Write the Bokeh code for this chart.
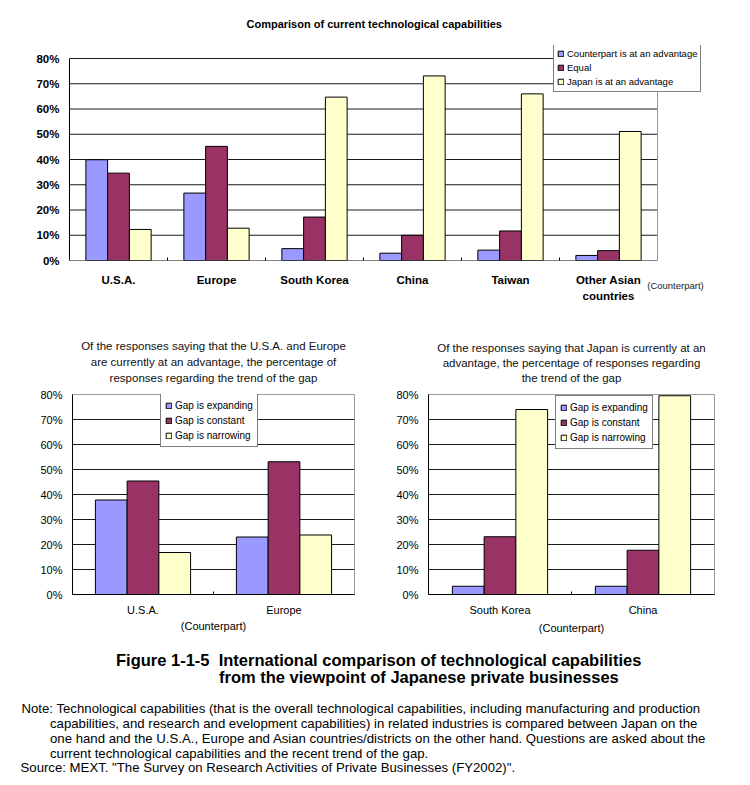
import html
from bokeh.plotting import figure
from bokeh.models import (Range1d, FixedTicker, Legend, LegendItem, Title, Div, LinearAxis)
from bokeh.layouts import column, row
from bokeh.embed import file_html
from bokeh.resources import INLINE

FONT = "Liberation Sans"
BLUE = "#9999FF"
MAROON = "#993366"
YELLOW = "#FFFFCC"
GRID = "#1a1a1a"
BORDER = "#9a9a9a"

# ---------------- data ----------------
top_title = "Comparison of current technological capabilities"
top_categories = ["U.S.A.", "Europe", "South Korea", "China", "Taiwan", "Other Asian\ncountries"]
top_series = ["Counterpart is at an advantage", "Equal", "Japan is at an advantage"]
top_counterpart_adv = [39.9, 26.7, 4.7, 2.9, 4.1, 2.0]
top_equal = [34.6, 45.2, 17.2, 10.0, 11.7, 3.9]
top_japan_adv = [12.3, 12.8, 64.7, 73.1, 66.0, 51.1]

gap_series = ["Gap is expanding", "Gap is constant", "Gap is narrowing"]

left_title = ["Of the responses saying that the U.S.A. and Europe",
              "are currently at an advantage, the percentage of",
              "responses regarding the trend of the gap"]
left_categories = ["U.S.A.", "Europe"]
left_expanding = [37.8, 23.0]
left_constant = [45.4, 53.1]
left_narrowing = [16.8, 23.8]

right_title = ["Of the responses saying that Japan is currently at an",
               "advantage, the percentage of responses regarding",
               "the trend of the gap"]
right_categories = ["South Korea", "China"]
right_expanding = [3.3, 3.3]
right_constant = [23.1, 17.7]
right_narrowing = [74.0, 79.5]

pct_ticks = [0, 10, 20, 30, 40, 50, 60, 70, 80]
pct_labels = ["0%", "10%", "20%", "30%", "40%", "50%", "60%", "70%", "80%"]
counterpart_label = "(Counterpart)"

caption_lines = ["Figure 1-1-5  International comparison of technological capabilities",
                 "from the viewpoint of Japanese private businesses"]
note_lines = ["Note: Technological capabilities (that is the overall technological capabilities, including manufacturing and production",
              "capabilities, and research and evelopment capabilities) in related industries is compared between Japan on the",
              "one hand and the U.S.A., Europe and Asian countries/districts on the other hand. Questions are asked about the",
              "current technological capabilities and the recent trend of the gap."]
source_line = "Source: MEXT. \"The Survey on Research Activities of Private Businesses (FY2002)\"."


def style_yaxis(p, size, style):
    p.yaxis.ticker = FixedTicker(ticks=pct_ticks)
    p.yaxis.major_label_overrides = {t: lab for t, lab in zip(pct_ticks, pct_labels)}
    p.yaxis.bounds = (pct_ticks[0], pct_ticks[-1])
    p.yaxis.major_tick_out = 0
    p.yaxis.major_tick_in = 0
    p.yaxis.minor_tick_line_color = None
    p.yaxis.axis_line_color = "black"
    p.yaxis.major_label_text_font = FONT
    p.yaxis.major_label_text_font_size = size
    p.yaxis.major_label_text_font_style = style
    p.yaxis.major_label_text_color = "black"
    p.yaxis.major_label_standoff = 10


def add_bars(p, n, series, bar_w):
    colors = [BLUE, MAROON, YELLOW]
    renderers = []
    for k, vals in enumerate(series):
        xs = [i + 0.5 + (k - 1) * bar_w for i in range(n)]
        renderers.append(p.vbar(x=xs, top=vals, bottom=0, width=bar_w, fill_color=colors[k],
                                line_color="black", line_width=1))
    return renderers


def add_legend(p, names, renderers, loc, size, lheight, pad):
    legend = Legend(items=[LegendItem(label=nm, renderers=[r]) for nm, r in zip(names, renderers)],
                    location=loc, orientation="vertical")
    legend.label_text_font = FONT
    legend.label_text_font_size = size
    legend.label_text_color = "black"
    legend.label_height = lheight
    legend.label_standoff = 3
    legend.glyph_width = 7
    legend.glyph_height = 7
    legend.padding = pad
    legend.spacing = 1
    legend.margin = 0
    legend.border_line_color = "black"
    legend.border_line_width = 1
    legend.background_fill_color = "white"
    legend.background_fill_alpha = 1
    p.add_layout(legend)


def add_title_lines(p, lines, gap_px, pitch_px, size, color, text_h=13.0):
    # a thin spacer panel next to the plot area, then one panel per line (nearest line last)
    p.add_layout(Title(text=" ", standoff=gap_px - 2.0 - 2.3, text_font=FONT,
                       text_font_size="2px", text_color="white"), "above")
    for line in reversed(lines):
        p.add_layout(Title(text=line, align="center", standoff=pitch_px - 2.0 - text_h,
                           vertical_align="middle", text_font=FONT, text_font_size=size,
                           text_font_style="normal", text_color=color), "above")


# ---------------- top chart ----------------
# plot area of the chart: x 69..657, y 58..260 ; the frame is widened to x 702 and
# raised to y 45 so that the legend, which sticks out of the plot area, is not clipped.
n_top = len(top_categories)
T_LEFT, T_RIGHT_AXIS, T_RIGHT, T_TOP, T_TOP_AXIS, T_BOTTOM = 69, 657, 702, 45, 58, 260
x_end = n_top * (T_RIGHT - T_LEFT) / (T_RIGHT_AXIS - T_LEFT)
y_end = 80 * (T_BOTTOM - T_TOP) / (T_BOTTOM - T_TOP_AXIS)
top = figure(width=750, height=313, x_range=Range1d(0, x_end), y_range=Range1d(0, y_end),
             toolbar_location=None, output_backend="svg", title=None,
             min_border_left=T_LEFT, min_border_right=750 - T_RIGHT,
             min_border_top=T_TOP, min_border_bottom=313 - T_BOTTOM)
top.outline_line_color = None
top.grid.visible = False
top_grid = pct_ticks[1:]
top.segment(x0=[0] * len(top_grid), x1=[n_top] * len(top_grid), y0=top_grid, y1=top_grid,
            line_color=GRID, line_width=1)
top.segment(x0=[n_top], x1=[n_top], y0=[0], y1=[80], line_color=BORDER, line_width=1)
top_r = add_bars(top, n_top, [top_counterpart_adv, top_equal, top_japan_adv], 0.222)
top.segment(x0=[0], x1=[n_top], y0=[0], y1=[0], line_color="black", line_width=1)
style_yaxis(top, "11.5px", "bold")

# axis nearest the plot: boundary ticks and the "(Counterpart)" note
top_centers = [i + 0.5 for i in range(n_top)]
cp_x = (675 - T_LEFT) / (T_RIGHT_AXIS - T_LEFT) * n_top
ax_a = top.xaxis[0]
ax_a.ticker = FixedTicker(ticks=[cp_x], minor_ticks=list(range(1, n_top)))
ax_a.major_label_overrides = {cp_x: counterpart_label}
ax_a.axis_line_color = None
ax_a.major_tick_line_color = None
ax_a.major_tick_out = 0
ax_a.major_tick_in = 0
ax_a.minor_tick_in = 3
ax_a.minor_tick_out = 0
ax_a.minor_tick_line_color = "black"
ax_a.major_label_text_font = FONT
ax_a.major_label_text_font_size = "9.5px"
ax_a.major_label_text_font_style = "normal"
ax_a.major_label_text_color = "#222222"
ax_a.major_label_standoff = 19
# category labels
ax_b = LinearAxis(ticker=FixedTicker(ticks=top_centers),
                  major_label_overrides={c: lab for c, lab in zip(top_centers, top_categories)})
ax_b.axis_line_color = None
ax_b.major_tick_line_color = None
ax_b.minor_tick_line_color = None
ax_b.major_label_text_font = FONT
ax_b.major_label_text_font_size = "11.5px"
ax_b.major_label_text_font_style = "bold"
ax_b.major_label_text_color = "black"
ax_b.major_label_text_line_height = 1.35
ax_b.major_label_standoff = -26
top.add_layout(ax_b, "below")

add_legend(top, top_series, top_r, (484, T_BOTTOM - 92), "9.5px", 13, 3)
top.add_layout(Title(text=top_title, align="left", offset=177, standoff=29,
                     vertical_align="middle", text_font=FONT, text_font_size="11px",
                     text_font_style="bold", text_color="black"), "above")


# ---------------- bottom charts ----------------
def gap_chart(categories, series, borders, bar_w, legend_loc, title_lines, title_gap,
              title_pitch, label_standoff):
    left, right, tp, bottom = borders
    n = len(categories)
    p = figure(width=375, height=327, x_range=Range1d(0, n), y_range=Range1d(0, 80),
               toolbar_location=None, output_backend="svg", title=None,
               min_border_left=left, min_border_right=right,
               min_border_top=tp, min_border_bottom=bottom)
    p.outline_line_color = BORDER
    p.xgrid.grid_line_color = None
    p.ygrid.ticker = FixedTicker(ticks=pct_ticks[1:-1])
    p.ygrid.grid_line_color = GRID
    r = add_bars(p, n, series, bar_w)
    style_yaxis(p, "11px", "normal")
    centers = [i + 0.5 for i in range(n)]
    p.xaxis.ticker = FixedTicker(ticks=centers, minor_ticks=list(range(1, n)))
    p.xaxis.major_label_overrides = {c: lab for c, lab in zip(centers, categories)}
    p.xaxis.major_tick_out = 0
    p.xaxis.major_tick_in = 0
    p.xaxis.minor_tick_in = 3
    p.xaxis.minor_tick_out = 0
    p.xaxis.minor_tick_line_color = "black"
    p.xaxis.axis_line_color = "black"
    p.xaxis.major_label_text_font = FONT
    p.xaxis.major_label_text_font_size = "11px"
    p.xaxis.major_label_text_color = "black"
    p.xaxis.major_label_standoff = 9
    p.xaxis.axis_label = counterpart_label
    p.xaxis.axis_label_standoff = label_standoff
    p.xaxis.axis_label_text_font = FONT
    p.xaxis.axis_label_text_font_size = "11px"
    p.xaxis.axis_label_text_font_style = "normal"
    p.xaxis.axis_label_text_color = "black"
    add_legend(p, gap_series, r, legend_loc, "10px", 14, 4)
    add_title_lines(p, title_lines, title_gap, title_pitch, "11.5px", "#111111")
    return p


bl = gap_chart(left_categories, [left_expanding, left_constant, left_narrowing],
               (72, 21, 81, 44), 0.225, (88, 147), left_title, 9.25, 16.5, 1)
br = gap_chart(right_categories, [right_expanding, right_constant, right_narrowing],
               (53, 36, 78, 46), 0.222, (127, 145), right_title, 9.3, 16.2, 3)


# ---------------- caption / notes (HTML text) ----------------
def line_div(text, left, center_y, size, lh, bold=False):
    weight = "bold" if bold else "normal"
    return ('<div style="position:absolute;left:%spx;top:%spx;font-size:%s;line-height:%spx;'
            'font-weight:%s;white-space:pre;">%s</div>'
            % (left, center_y - lh / 2.0, size, lh, weight, html.escape(text, quote=False)))


parts = [line_div(caption_lines[0], 116, 20, "16.5px", 18, True),
         line_div(caption_lines[1], 219, 36.5, "16.5px", 18, True)]
for t, x, y in zip(note_lines, [21.5, 50, 50, 50], [68, 83, 98, 113]):
    parts.append(line_div(t, x, y, "13.2px", 15))
parts.append(line_div(source_line, 20.5, 127, "13.2px", 15))
cap_html = ('<div style="position:relative;width:750px;height:145px;overflow:hidden;'
            'font-family:\'Liberation Sans\',Arial,sans-serif;color:#000;">' + "".join(parts) + '</div>')
cap = Div(text=cap_html, width=750, height=145, margin=0)

layout = column(top, row(bl, br), cap)
open("out.html", "w").write(file_html(layout, INLINE))
